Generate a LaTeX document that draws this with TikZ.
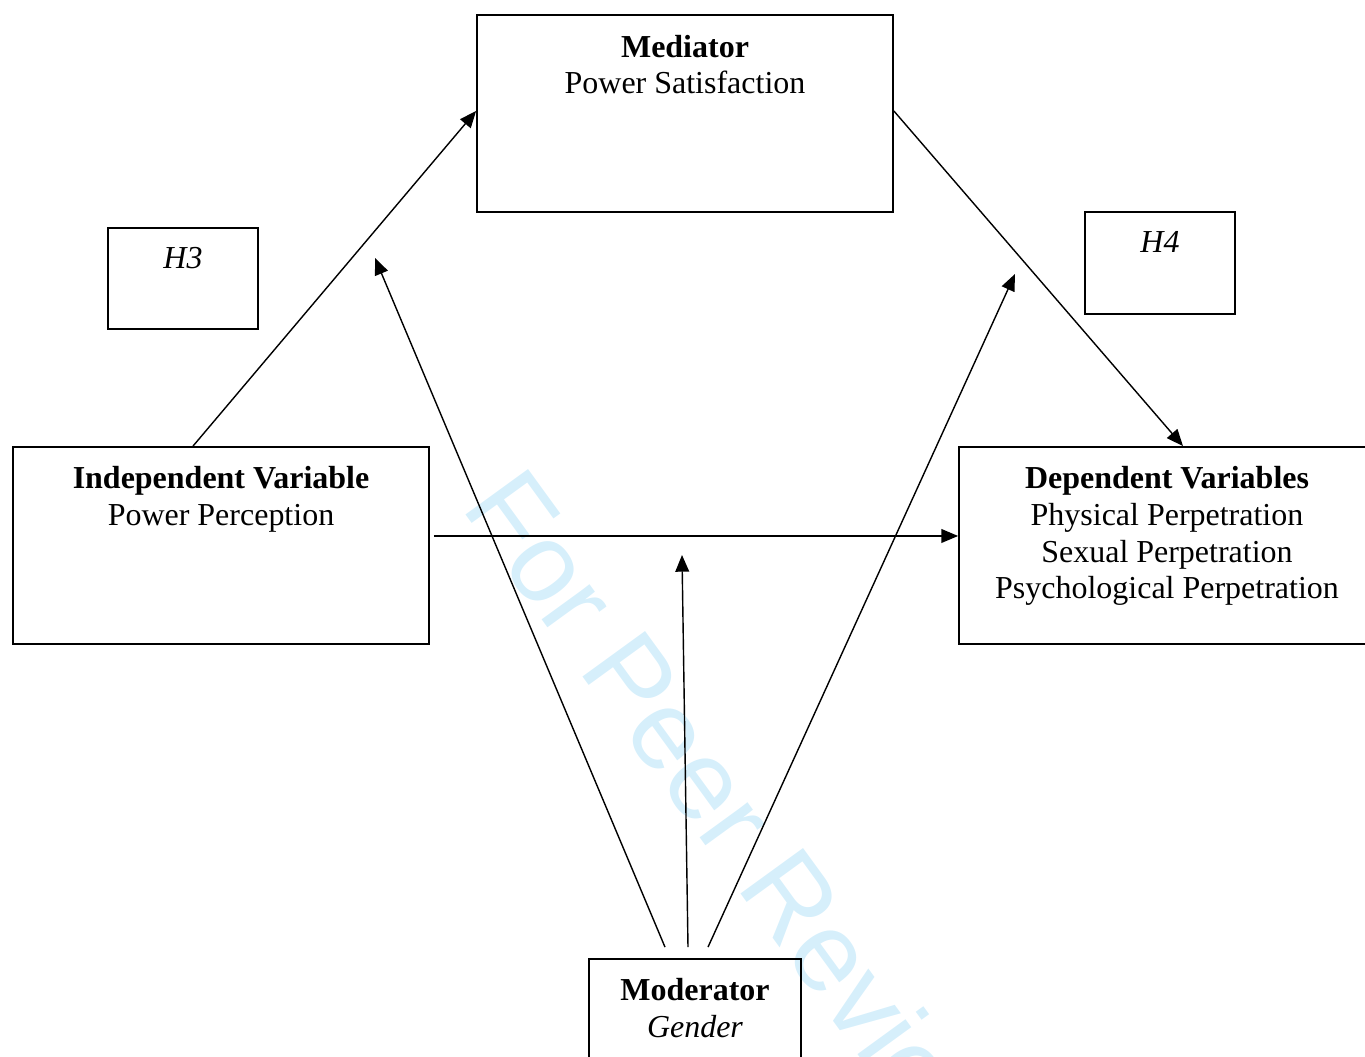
\documentclass[tikz,border=0pt]{standalone}
\usepackage{fontspec}
\setmainfont{Liberation Serif}
\newfontfamily\wmfont{Liberation Sans}
\usepackage{tikz}
\usetikzlibrary{arrows.meta,
  positioning,
  calc}
\definecolor{wmblue}{RGB}{214,239,251}

\begin{document}
\begin{tikzpicture}
    % Define styles for boxes, texts and arrows
    \tikzstyle{varbox} = [rectangle, minimum width=8.32cm, minimum height=3.94cm, draw=black, line width=1pt]
    \tikzstyle{hypbox} = [rectangle, minimum width=3cm, minimum height=2.03cm, draw=black, line width=1pt]
    \tikzstyle{modbox} = [rectangle, minimum width=4.24cm, minimum height=2.4cm, draw=black, line width=1pt]
    \tikzstyle{boxtext} = [inner sep=0pt, align=center, font=\fontsize{18.2}{20.9}\selectfont]
    \tikzstyle{arrow} = [line width=0.8pt, -{Triangle[length=9.5pt, width=7.8pt]}]
    \useasboundingbox (0,0) rectangle (27.3,21.14);
    % Watermark
    \node (wm) [inner sep=0pt, anchor=base west, rotate=-54, text=wmblue,
        font=\wmfont\fontsize{64}{64}\selectfont] at (9.2,10.99) {For Peer Review};
    % Boxes
    \node (med) [varbox] at (13.70,18.87) {};
    \node (iv) [varbox] at (4.42,10.23) {};
    \node (dv) [varbox] at (23.34,10.23) {};
    \node (hthree) [hypbox] at (3.66,15.57) {};
    \node (hfour) [hypbox] at (23.20,15.88) {};
    \node (mod) [modbox] at (13.90,0.76) {};
    % Texts
    \node (medtext) [boxtext, below=0.41cm of med.north] {\textbf{Mediator}\\Power Satisfaction};
    \node (ivtext) [boxtext, below=0.4cm of iv.north] {\textbf{Independent Variable}\\Power Perception};
    \node (dvtext) [boxtext, below=0.4cm of dv.north] {\textbf{Dependent Variables}\\Physical Perpetration\\Sexual Perpetration\\Psychological Perpetration};
    \node (hthreetext) [boxtext, below=0.4cm of hthree.north] {\textit{H3}};
    \node (hfourtext) [boxtext, below=0.4cm of hfour.north] {\textit{H4}};
    \node (modtext) [boxtext, below=0.4cm of mod.north] {\textbf{Moderator}\\\textit{Gender}};
    % Free ends of the moderator arrows
    \coordinate (onleft) at (7.50,15.98);
    \coordinate (onmid) at (13.64,10.04);
    \coordinate (onright) at (20.30,15.66);
    % Arrows
    \draw [arrow] ([xshift=-0.56cm]iv.north) -- ([yshift=0.05cm]med.west);
    \draw [arrow] ([yshift=0.05cm]med.east) -- ([xshift=0.32cm]dv.north);
    \draw [arrow] ([xshift=0.08cm, yshift=0.19cm]iv.east) -- ([yshift=0.19cm]dv.west);
    \draw [arrow] ([xshift=-0.6cm, yshift=0.22cm]mod.north) -- (onleft);
    \draw [arrow] ([xshift=-0.14cm, yshift=0.22cm]mod.north) -- (onmid);
    \draw [arrow] ([xshift=0.26cm, yshift=0.22cm]mod.north) -- (onright);
\end{tikzpicture}
\end{document}
